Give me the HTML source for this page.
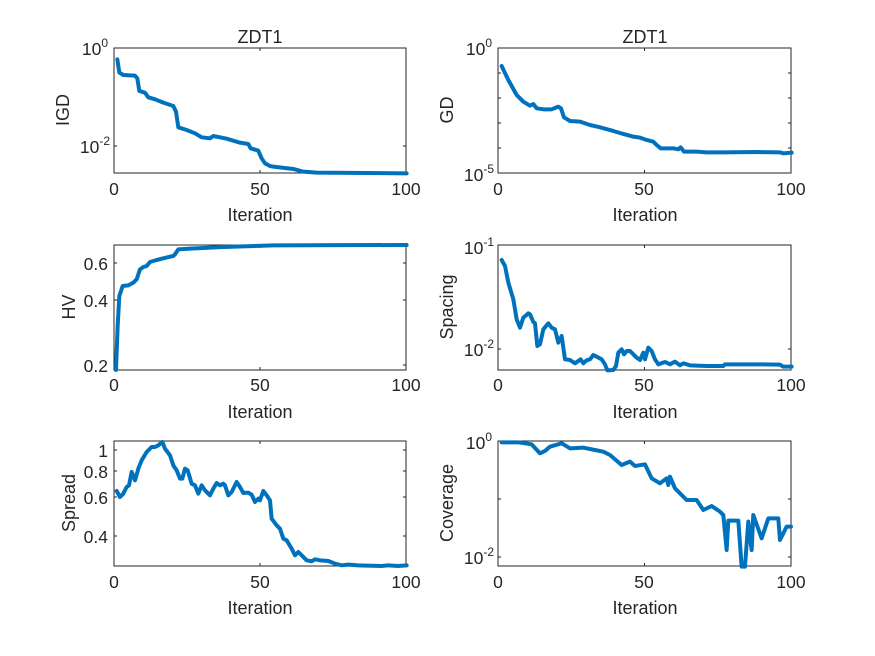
<!DOCTYPE html>
<html><head><meta charset="utf-8"><style>
html,body{margin:0;padding:0;background:#fff}
svg{display:block}
text{font-family:"Liberation Sans",Arial,sans-serif;fill:#262626}
.t{font-size:17.5px}
.l{font-size:18px}
.ln{fill:none;stroke:#0072BD;stroke-width:4;stroke-linejoin:round;stroke-linecap:round}
.ax{fill:none;stroke:#262626;stroke-width:1}
</style></head><body>
<svg width="875" height="656" viewBox="0 0 875 656" xmlns="http://www.w3.org/2000/svg">
<rect width="875" height="656" fill="#fff"/>
<g class="ax">
<rect x="114" y="48" width="292" height="125"/>
<rect x="498" y="48" width="293" height="125"/>
<rect x="114" y="245" width="292" height="125"/>
<rect x="498" y="245" width="293" height="125"/>
<rect x="114" y="441" width="292" height="125"/>
<rect x="498" y="441" width="293" height="125"/>
</g>
<g stroke="#262626" stroke-width="1">
<path d="M260,173v-3M260,48v3M260,370v-3M260,245v3M260,566v-3M260,441v3"/>
<path d="M644.5,173v-3M644.5,48v3M644.5,370v-3M644.5,245v3M644.5,566v-3M644.5,441v3"/>
<path d="M114,146h3M406,146h-3"/>
<path d="M114,263h3M406,263h-3M114,300h3M406,300h-3M114,365h3M406,365h-3"/>
<path d="M114,450h3M406,450h-3M114,471h3M406,471h-3M114,497h3M406,497h-3M114,536h3M406,536h-3"/>
<path d="M498,73h3M791,73h-3M498,98h3M791,98h-3M498,123h3M791,123h-3M498,148h3M791,148h-3"/>
<path d="M498,349h3M791,349h-3"/>
<path d="M498,499h3M791,499h-3M498,557h3M791,557h-3"/>
</g>
<g transform="translate(40,20) scale(0.3333)"><polyline class="ln" vector-effect="non-scaling-stroke" points="232,118 238,158 250,165 285,167 292,175 298,213 315,218 325,232 345,238 370,248 400,258 408,275 415,322 440,330 465,340 485,352 510,355 520,348 560,356 600,368 625,372 632,385 655,392 665,415 675,430 690,438 700,440 760,447 790,455 830,458 1100,460"/></g>
<g transform="translate(490,40) scale(0.3333)"><polyline class="ln" vector-effect="non-scaling-stroke" points="35,78 55,120 80,165 100,185 120,197 130,192 140,205 160,208 185,208 205,200 213,205 222,232 240,243 270,245 300,255 330,262 370,273 400,282 430,290 450,293 470,300 490,305 500,315 512,325 550,325 565,328 572,322 582,335 620,335 650,337 700,337 800,336 870,337 880,340 905,338"/></g>
<g transform="translate(40,236) scale(0.3333)"><polyline class="ln" vector-effect="non-scaling-stroke" points="228,402 233,270 238,180 248,150 265,148 280,140 290,130 300,100 310,93 320,90 330,78 350,72 370,67 390,62 400,60 405,55 415,40 450,38 550,33 700,28 1100,27"/></g>
<g transform="translate(490,236) scale(0.3333)"><polyline class="ln" vector-effect="non-scaling-stroke" points="35,72 45,90 55,140 70,190 80,250 90,275 100,245 115,232 120,235 130,258 135,262 142,330 150,325 160,280 175,262 185,275 195,280 205,320 215,300 225,370 240,372 255,382 272,370 280,382 290,373 300,370 310,357 320,362 335,370 345,385 352,403 370,402 378,390 385,350 395,340 402,355 410,345 420,345 440,365 450,372 460,350 465,370 475,335 485,345 495,370 505,385 525,378 540,385 555,377 570,388 580,382 600,388 650,390 700,390 705,385 800,385 870,386 880,392 905,392"/></g>
<g transform="translate(105,432) scale(0.3333)"><polyline class="ln" vector-effect="non-scaling-stroke" points="35,177 45,195 55,185 65,165 72,160 80,120 90,145 100,110 110,85 125,60 140,45 150,45 160,40 172,30 180,50 195,70 205,100 215,115 225,140 232,140 240,110 248,115 260,155 270,160 280,185 290,160 300,175 315,190 325,170 335,153 345,160 355,155 360,160 370,190 380,180 395,150 405,165 415,183 430,182 440,188 450,210 460,200 465,205 475,177 485,190 495,205 500,260 515,280 525,290 535,320 545,325 560,350 570,370 580,360 590,370 605,385 620,388 630,382 645,385 670,387 690,395 710,400 730,398 760,400 830,402 850,400 880,402 905,400"/></g>
<g transform="translate(430,420) scale(0.3333)"><polyline class="ln" vector-effect="non-scaling-stroke" points="215,67 265,67 305,73 330,100 345,93 360,80 395,70 420,85 460,83 480,87 520,95 540,105 575,135 600,125 615,138 645,133 665,175 690,190 710,175 715,195 720,170 735,205 770,240 800,240 820,270 845,258 870,275 880,285 890,390 895,302 925,302 935,440 945,440 955,305 965,390 970,285 995,355 1015,295 1045,295 1050,360 1070,320 1083,320"/></g>
<text x="260" y="43" class="l" text-anchor="middle">ZDT1</text>
<text x="645" y="43" class="l" text-anchor="middle">ZDT1</text>
<g class="t" text-anchor="middle">
<text x="114" y="195">0</text><text x="260" y="195">50</text><text x="406" y="195">100</text>
<text x="498" y="195">0</text><text x="644" y="195">50</text><text x="791" y="195">100</text>
<text x="114" y="391">0</text><text x="260" y="391">50</text><text x="406" y="391">100</text>
<text x="498" y="391">0</text><text x="644" y="391">50</text><text x="791" y="391">100</text>
<text x="114" y="588">0</text><text x="260" y="588">50</text><text x="406" y="588">100</text>
<text x="498" y="588">0</text><text x="644" y="588">50</text><text x="791" y="588">100</text>
</g>
<g class="l" text-anchor="middle">
<text x="260" y="221">Iteration</text><text x="645" y="221">Iteration</text>
<text x="260" y="418">Iteration</text><text x="645" y="418">Iteration</text>
<text x="260" y="614">Iteration</text><text x="645" y="614">Iteration</text>
</g>
<g class="l" text-anchor="middle">
<text transform="translate(69,110) rotate(-90)">IGD</text>
<text transform="translate(453,110) rotate(-90)">GD</text>
<text transform="translate(75,307) rotate(-90)">HV</text>
<text transform="translate(453,307) rotate(-90)">Spacing</text>
<text transform="translate(75,503) rotate(-90)">Spread</text>
<text transform="translate(453,503) rotate(-90)">Coverage</text>
</g>
<g class="t" text-anchor="end">
<text x="108" y="55">10<tspan dy="-8" font-size="12">0</tspan></text>
<text x="110" y="153">10<tspan dy="-8" font-size="12">-2</tspan></text>
<text x="492" y="55">10<tspan dy="-8" font-size="12">0</tspan></text>
<text x="494" y="181">10<tspan dy="-8" font-size="12">-5</tspan></text>
<text x="108" y="270">0.6</text><text x="108" y="307">0.4</text><text x="108" y="372">0.2</text>
<text x="494" y="254">10<tspan dy="-8" font-size="12">-1</tspan></text>
<text x="494" y="356">10<tspan dy="-8" font-size="12">-2</tspan></text>
<text x="108" y="457">1</text><text x="108" y="478">0.8</text><text x="108" y="504">0.6</text><text x="108" y="543">0.4</text>
<text x="492" y="449">10<tspan dy="-8" font-size="12">0</tspan></text>
<text x="494" y="564">10<tspan dy="-8" font-size="12">-2</tspan></text>
</g>
</svg>
</body></html>
